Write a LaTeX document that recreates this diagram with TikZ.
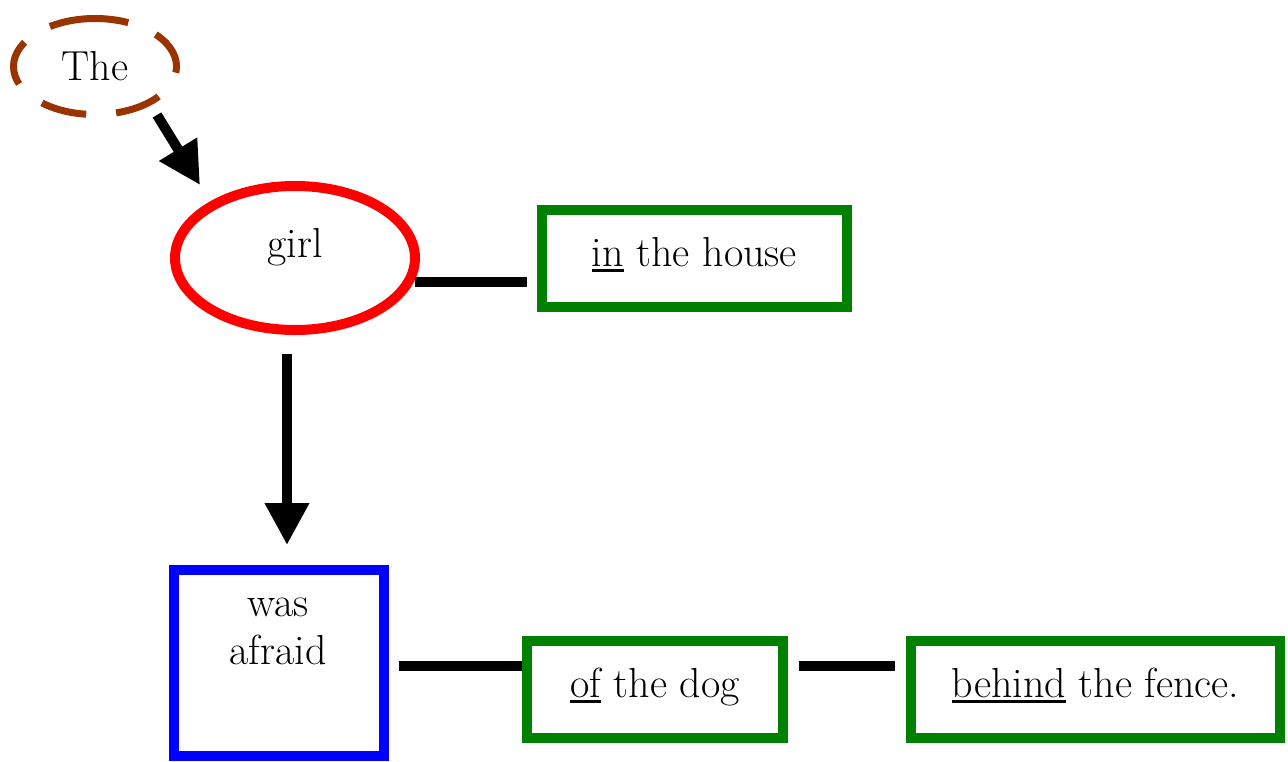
\documentclass[tikz,border=0pt]{standalone}
\usepackage{fontspec}
\usetikzlibrary{arrows.meta,shapes.geometric,calc}
\definecolor{artbrown}{RGB}{153,51,0}
\definecolor{modgreen}{RGB}{0,128,0}
% underline a word with a thick rule just below the baseline
\newcommand{\ulword}[1]{\setbox0\hbox{#1}\rlap{\rule[-5.5pt]{\wd0}{2.6pt}}\box0\relax}
\begin{document}
\begin{tikzpicture}[x=1pt,y=-1pt,
  font=\fontsize{42}{48}\selectfont,
  article/.style={ellipse, draw=artbrown, line width=7pt,
    dash pattern=on 46pt off 30pt, rotate=90,
    minimum width=96pt, minimum height=163pt, inner sep=0pt},
  noun/.style={ellipse, draw=red, line width=10pt,
    minimum width=240pt, minimum height=144pt, inner sep=0pt},
  verb/.style={rectangle, draw=blue, line width=10pt,
    minimum width=210pt, minimum height=186pt, inner sep=0pt},
  phrase/.style={rectangle, draw=modgreen, line width=10pt,
    minimum height=97pt, text height=28pt, text depth=12pt, inner sep=0pt},
  word/.style={inner sep=0pt},
  link/.style={line width=10pt},
  arrowlink/.style={line width=10pt, -{Triangle[length=42pt,width=42pt]}}]
\useasboundingbox (0,0) rectangle (1288,761);

% nodes
\node[article] (the) at (95,66.5) {\rotatebox{-90}{The}};
\node[noun] (girl) at (295,258) {};
\node[word, anchor=base] (girltext) at (295,257) {girl};
\node[phrase, minimum width=305pt] (house) at (694.5,258) {\ulword{in} the house};
\node[verb] (afraid) at (279,663) {};
\node[word, anchor=north, align=center] (afraidtext) at (278,598) {was\\afraid};
\node[phrase, minimum width=256pt] (dog) at (655,689.5) {\ulword{of} the dog};
\node[phrase, minimum width=369pt] (fence) at (1095.5,689.5) {\ulword{behind} the fence.};

% connectors
\draw[arrowlink] ($(the.center)+(62,48.5)$) -- ($(girl.center)+(-95,-73)$);
\draw[arrowlink] ($(girl.center)+(-8,96)$) -- ($(afraid.north)+(8,-20)$);
\draw[link] ($(girl.center)+(120,24)$) -- ($(house.west)+(-10,24)$);
\draw[link] ($(afraid.east)+(10,3)$) -- ($(dog.west)+(0,-23.5)$);
\draw[link] ($(dog.east)+(11,-23.5)$) -- ($(fence.west)+(-11,-23.5)$);
\end{tikzpicture}
\end{document}
